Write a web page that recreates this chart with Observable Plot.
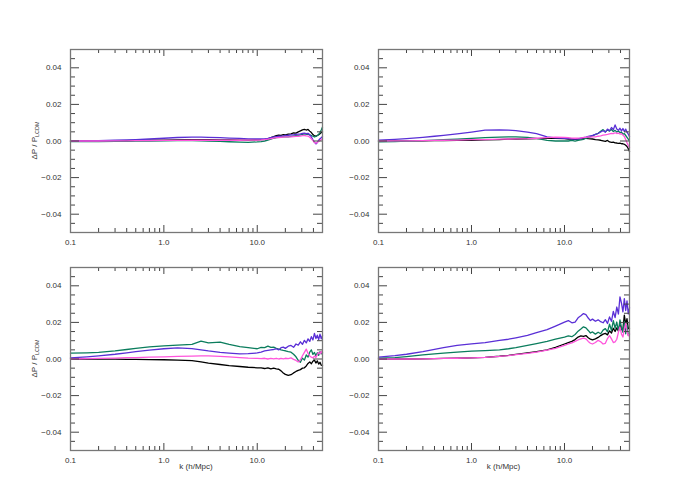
<!DOCTYPE html>
<html><head><meta charset="utf-8">
<script src="https://cdn.jsdelivr.net/npm/d3@7"></script>
<script src="https://cdn.jsdelivr.net/npm/@observablehq/plot@0.6"></script>
<style>
body{margin:0;background:#fff}
#c{position:relative;width:700px;height:500px;background:#fff;font-family:"Liberation Sans",Arial,sans-serif}
#c svg{position:absolute;overflow:visible}
</style>
</head><body><div id="c"></div>
<script>
// wavenumbers k (h/Mpc): low-k part then dense high-k part
const kLow = [0.1,0.15,0.2,0.3,0.4,0.5,0.7,1.0,1.4,2.0,2.5,3.0,4.0,5.0,6.5,8.0,10];
const kHigh = [11,12,13,14,15,16,17,18,19,20,21.5,23,24.5,26,27.5,29,30.5,32,33.5,35,36.5,38,39.5,41,42.5,44,45.5,47,48.5,50];
const k = kLow.concat(kHigh);

// values of ΔP/P_LCDM in units of 1e-3
const tlBlack = [0,0,0.1,0.1,0.2,0.3,0.4,0.5,0.6,0.7,0.7,0.7,0.6,0.6,0.5,0.5,0.6,
  0.7,0.9,1.2,1.8,2.4,2.9,3.2,3.1,3.5,3.4,3.7,3.9,4.4,4.3,5.0,5.5,6.1,6.4,6.0,6.3,5.4,4.6,3.5,2.8,2.6,3.0,3.4,4.0,4.6,5.0];
const tlBlue = [0,0.1,0.2,0.4,0.6,0.8,1.1,1.5,1.9,2.1,2.1,2.0,1.8,1.6,1.4,1.2,1.1,
  1.1,1.2,1.4,1.8,2.2,2.4,2.6,2.7,2.8,3.0,3.1,3.3,3.4,3.6,3.8,3.9,4.1,4.3,4.0,4.2,3.4,2.2,0.6,-0.6,-1.6,-0.8,0.4,1.2,1.8,2.4];
const tlGreen = [-0.3,-0.3,-0.3,-0.2,-0.2,-0.1,0,0.1,0.2,0.2,0.1,0,-0.2,-0.4,-0.6,-0.7,-0.5,
  -0.3,0,0.5,1.0,1.5,1.8,2.0,2.1,2.2,2.3,2.3,2.5,2.7,2.9,3.1,3.4,3.6,3.9,3.7,3.8,3.4,3.0,2.6,2.2,2.5,3.0,3.6,4.6,6.0,7.6];
const tlMagenta = [0,0,0,0.1,0.1,0.2,0.2,0.3,0.3,0.4,0.4,0.4,0.4,0.4,0.4,0.5,0.5,
  0.6,0.8,1.0,1.3,1.6,1.8,1.9,2.0,2.1,2.2,2.2,2.3,2.4,2.5,2.6,2.7,2.9,3.0,2.8,2.7,2.0,1.2,0.2,-0.8,-1.2,-0.8,-0.2,0.3,0.8,1.2];

const trBlack = [0,0,0.1,0.1,0.2,0.2,0.3,0.4,0.6,0.8,1.0,1.1,1.2,1.3,1.4,1.4,1.3,
  1.1,1.0,0.9,1.0,1.2,1.4,1.5,1.3,1.2,1.1,0.8,0.6,0.4,0.1,-0.2,0.3,-0.5,-0.7,-0.6,-1.0,-1.1,-1.3,-1.2,-1.5,-1.5,-1.8,-2.3,-3.0,-4.2,-5.8];
const trBlue = [0.5,0.9,1.3,2.0,2.6,3.1,3.9,4.9,5.9,6.0,5.9,5.7,4.9,4.0,2.3,1.7,1.5,
  1.3,1.2,1.1,1.2,1.5,1.8,2.1,2.5,2.8,3.1,3.6,4.1,4.9,5.6,4.8,6.5,5.6,7.4,6.2,8.8,6.6,5.8,7.0,5.5,6.8,5.2,6.5,4.8,3.8,2.4];
const trGreen = [-0.4,-0.3,-0.1,0.2,0.5,0.7,1.0,1.4,1.8,2.1,2.2,2.2,2.0,1.4,0.3,0.0,0.1,
  0.0,0.3,-0.1,0.4,0.6,0.9,1.5,1.8,2.4,2.8,3.6,4.2,5.3,6.2,5.0,6.0,5.4,6.3,5.2,5.8,4.9,5.5,4.6,4.9,3.8,4.0,3.0,2.0,1.0,0.0];
const trMagenta = [0,0.1,0.1,0.2,0.3,0.4,0.5,0.7,0.8,1.0,1.1,1.2,1.3,1.5,1.8,2.1,2.0,
  1.8,1.6,1.5,1.6,1.7,1.9,2.0,2.2,2.1,2.3,2.2,2.6,2.8,3.2,3.4,3.6,3.9,4.2,4.0,4.5,4.1,4.3,3.8,4.0,3.2,2.5,0.8,-1.0,-2.5,-3.6];

const blBlack = [0,0,-0.1,-0.1,-0.2,-0.2,-0.3,-0.4,-0.6,-0.9,-1.6,-2.3,-3.0,-3.6,-4.1,-4.5,-4.8,
  -4.9,-5.2,-4.8,-5.4,-5.0,-5.4,-5.6,-6.5,-7.6,-8.4,-9.0,-8.6,-7.6,-6.8,-6.2,-5.8,-5.0,-4.8,-3.8,-2.4,-1.6,-2.6,-1.2,-0.6,-2.2,-1.0,-2.8,-1.8,-3.4,-3.6];
const blBlue = [0.6,1.2,1.7,2.6,3.4,4.0,4.8,5.6,6.1,5.7,5.0,4.4,3.6,3.2,2.8,2.9,3.3,
  3.8,4.4,4.7,5.0,5.2,5.6,5.0,6.2,6.5,5.8,7.0,7.4,6.4,8.2,7.6,9.4,8.0,10.2,8.8,11.0,9.6,12.2,10.4,14.0,11.2,13.0,10.6,13.6,11.0,12.8];
const blGreen = [3.2,3.4,3.6,4.4,5.2,5.8,6.6,7.2,7.6,8.0,9.8,8.8,9.2,8.0,6.8,6.2,5.6,
  6.4,6.2,7.0,6.3,6.5,5.8,5.4,5.0,4.7,4.5,4.0,3.7,2.6,1.2,-0.8,-1.8,0.5,-0.6,2.2,1.0,3.8,5.0,2.5,3.6,1.8,3.4,2.0,4.0,2.8,3.7];
const blMagenta = [0,0.2,0.3,0.5,0.7,0.8,1.0,1.2,1.4,1.6,1.7,1.7,1.4,1.2,0.8,0.5,0.3,
  0.2,0.4,0.0,0.3,0.1,0.4,0.0,0.3,0.1,0.4,0.2,0.6,-0.2,-0.8,-1.6,-0.4,1.8,3.6,5.4,3.0,1.6,1.0,0.6,1.6,0.8,2.4,3.6,2.8,4.2,2.8];

const brBlack = [0,0,0,0.1,0.2,0.3,0.4,0.6,0.9,1.5,2.0,2.5,3.3,4.0,5.0,6.4,8.2,
  9.0,9.6,10.6,12.0,12.6,12.4,12.8,11.6,10.8,10.4,11.0,11.8,12.8,13.6,14.0,13.2,15.4,14.2,16.8,15.0,17.0,15.4,18.6,16.0,16.4,24.0,19.0,22.0,16.6,16.8];
const brBlue = [1.0,1.8,2.6,4.0,5.2,6.2,7.4,8.3,9.0,10.2,10.8,11.6,12.9,14.4,16.0,18.0,20.2,
  21.0,19.8,20.2,22.5,23.6,24.8,24.2,22.4,21.0,21.8,20.6,21.4,20.4,19.8,21.5,19.4,23.0,20.6,26.0,22.6,28.4,24.6,34.0,30.5,25.8,33.0,26.5,31.8,24.6,28.0];
const brGreen = [0.4,0.8,1.3,2.2,2.8,3.2,3.8,4.3,4.6,5.0,5.6,6.2,7.4,8.4,9.6,10.8,12.0,
  12.6,12.2,13.4,15.2,16.4,17.6,17.0,15.6,14.2,14.8,13.6,14.6,13.8,15.8,16.6,14.8,19.0,15.6,21.0,16.8,20.2,15.2,21.4,17.2,14.6,20.6,13.8,18.4,13.0,13.6];
const brMagenta = [0,0,0,0.1,0.2,0.3,0.4,0.6,0.9,1.4,1.9,2.4,3.1,3.8,4.8,5.8,7.4,
  8.2,8.8,9.6,10.4,11.0,11.4,11.0,9.6,8.6,8.2,9.0,10.2,9.4,8.2,8.6,11.2,12.8,11.0,9.0,9.4,10.8,14.6,17.6,13.6,12.0,16.4,19.4,15.0,12.6,13.8];

const seriesNames = ["black","green","blue","magenta"];
const seriesColors = ["#000000","#0b7d5d","#5a2fd6","#ff55dc"];

const xMajor = [0.1,1,10];
const xMinor = [0.2,0.3,0.4,0.5,0.6,0.7,0.8,0.9,2,3,4,5,6,7,8,9,20,30,40];
const yMajor = [-0.04,-0.02,0,0.02,0.04];
const yMinor = [-0.045,-0.035,-0.03,-0.025,-0.015,-0.01,-0.005,0.005,0.01,0.015,0.025,0.03,0.035,0.045];
const xLabels = ["0.1","1.0","10.0"];
const yLabels = ["−0.04","−0.02","0.00","0.02","0.04"];

const container = document.getElementById("c");

function panel(values, o) {
  const iw = o.width - o.mL - o.mR, ih = o.height - o.mT - o.mB;
  const tc = "#444";
  const marks = [];
  values.forEach((vals, s) => {
    marks.push(Plot.line(k, {x: d => d, y: (d, i) => vals[i] / 1000, stroke: seriesColors[s], strokeWidth: 1.3}));
  });
  marks.push(
    Plot.tickX(xMajor, {x: d => d, insetTop: ih - 7, stroke: tc}),
    Plot.tickX(xMajor, {x: d => d, insetBottom: ih - 7, stroke: tc}),
    Plot.tickX(xMinor, {x: d => d, insetTop: ih - 4, stroke: tc}),
    Plot.tickX(xMinor, {x: d => d, insetBottom: ih - 4, stroke: tc}),
    Plot.tickY(yMajor, {y: d => d, insetRight: iw - 9, stroke: tc}),
    Plot.tickY(yMajor, {y: d => d, insetLeft: iw - 9, stroke: tc}),
    Plot.tickY(yMinor, {y: d => d, insetRight: iw - 5, stroke: tc}),
    Plot.tickY(yMinor, {y: d => d, insetLeft: iw - 5, stroke: tc}),
    Plot.frame({stroke: "#777", strokeWidth: 1.3}),
    Plot.axisX({ticks: xMajor, tickFormat: d => xLabels[xMajor.findIndex(v => Math.abs(v - d) < 1e-9)], tickSize: 0, tickPadding: 7, label: null}),
    Plot.axisY({ticks: yMajor, tickFormat: d => yLabels[yMajor.findIndex(v => Math.abs(v - d) < 1e-9)], tickSize: 0, tickPadding: 9, label: null})
  );
  const svg = Plot.plot({
    width: o.width, height: o.height,
    marginLeft: o.mL, marginRight: o.mR, marginTop: o.mT, marginBottom: o.mB,
    x: {type: "log", domain: [0.1, 50]},
    y: {domain: [-0.05, 0.05]},
    style: {fontFamily: "'Liberation Sans', Arial, sans-serif", fontSize: "8px", color: "#333", background: "transparent", overflow: "visible"},
    marks
  });
  svg.style.left = o.left + "px";
  svg.style.top = o.top + "px";
  const sel = d3.select(svg);
  if (o.ylabel) {
    const t = sel.append("text")
      .attr("transform", `translate(${o.mL - 33},${o.mT + ih / 2}) rotate(-90)`)
      .attr("text-anchor", "middle")
      .attr("font-size", 8).attr("fill", "#333")
      .attr("font-family", "'Liberation Sans', Arial, sans-serif");
    t.append("tspan").text("ΔP / P");
    t.append("tspan").attr("font-size", 5.5).attr("dy", 2).text("LCDM");
  }
  if (o.xlabel) {
    sel.append("text")
      .attr("x", o.mL + iw / 2).attr("y", o.mT + ih + 19)
      .attr("text-anchor", "middle")
      .attr("font-size", 8).attr("fill", "#333")
      .attr("font-family", "'Liberation Sans', Arial, sans-serif")
      .text("k (h/Mpc)");
  }
  container.appendChild(svg);
}

panel([tlBlack, tlGreen, tlBlue, tlMagenta], {left: 0, top: 0, width: 350, height: 250, mL: 70, mR: 28, mT: 49, mB: 18, ylabel: true});
panel([trBlack, trGreen, trBlue, trMagenta], {left: 340, top: 0, width: 360, height: 250, mL: 38, mR: 71, mT: 49, mB: 18});
panel([blBlack, blGreen, blBlue, blMagenta], {left: 0, top: 250, width: 350, height: 250, mL: 70, mR: 28, mT: 17, mB: 50, ylabel: true, xlabel: true});
panel([brBlack, brGreen, brBlue, brMagenta], {left: 340, top: 250, width: 360, height: 250, mL: 38, mR: 71, mT: 17, mB: 50, xlabel: true});
</script>
</body></html>
